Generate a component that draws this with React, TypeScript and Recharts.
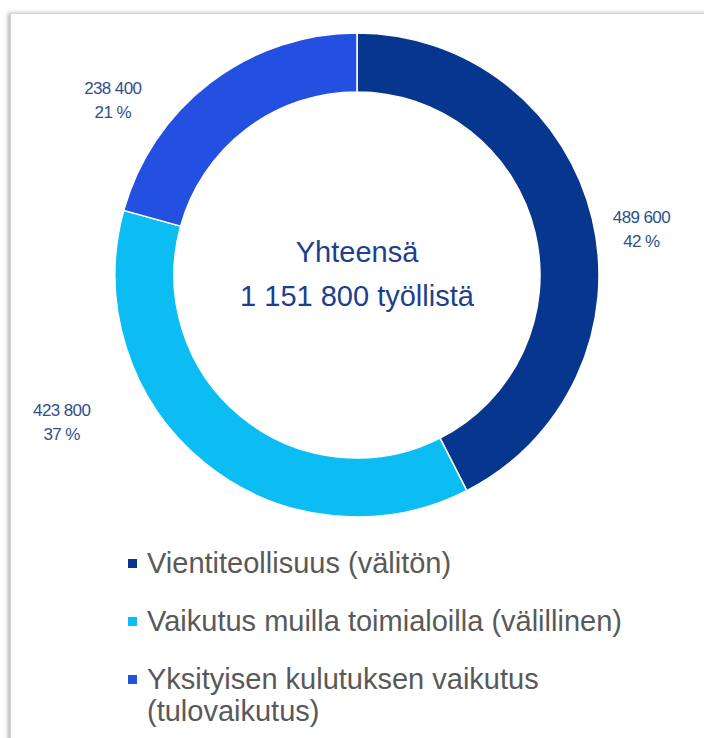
import { PieChart, Pie, Cell, Legend } from 'recharts';

const categories = [
  'Vientiteollisuus (välitön)',
  'Vaikutus muilla toimialoilla (välillinen)',
  'Yksityisen kulutuksen vaikutus (tulovaikutus)',
];
const employed = [489600, 423800, 238400];
const shareLabels = ['42 %', '37 %', '21 %'];
const totalLines = ['Yhteensä', '1 151 800 työllistä'];

const colors = ['#07368f', '#0bbdf2', '#2450e2'];
// where Excel put each data label, as angle (deg) and distance from the centre
const labelSpots = [
  { angle: 9, radius: 288 },
  { angle: 206.5, radius: 330 },
  { angle: 144.5, radius: 300 },
];

const data = categories.map((name, i) => ({ name, value: employed[i] }));

const fmt = (n: number) => n.toLocaleString('en-US').replace(/,/g, ' ');
const FONT = '"Liberation Sans", Arial, sans-serif';

const renderLabel = (props: any) => {
  const { cx, cy, index, value } = props;
  const spot = labelSpots[index];
  const rad = (spot.angle * Math.PI) / 180;
  const x = cx + spot.radius * Math.cos(rad);
  const y = cy - spot.radius * Math.sin(rad);
  return (
    <g>
      <text
        x={x}
        y={y}
        textAnchor="middle"
        fill="#2f4f8e"
        fontSize={17}
        fontFamily={FONT}
        letterSpacing={-0.6}
      >
        <tspan x={x} y={y - 12} dominantBaseline="central">{fmt(value)}</tspan>
        <tspan x={x} y={y + 12} dominantBaseline="central">{shareLabels[index]}</tspan>
      </text>
      {/* the total sits in the hole, drawn once with the first label */}
      {index === 0 && (
        <text textAnchor="middle" fill="#1d3f8f" fontSize={29} fontFamily={FONT}>
          <tspan x={cx} y={cy - 23} dominantBaseline="central">{totalLines[0]}</tspan>
          <tspan x={cx} y={cy + 21} dominantBaseline="central">{totalLines[1]}</tspan>
        </text>
      )}
    </g>
  );
};

const renderLegend = () => (
  <div style={{ fontFamily: FONT, fontSize: 29, color: '#595959' }}>
    {categories.map((name, i) => (
      <div key={name} style={{ display: 'flex', alignItems: 'flex-start', marginBottom: 26 }}>
        <span
          style={{
            width: 9,
            height: 9,
            background: colors[i],
            marginTop: 12,
            marginRight: 10,
            flexShrink: 0,
          }}
        />
        <span style={{ lineHeight: '32px', maxWidth: 500 }}>{name}</span>
      </div>
    ))}
  </div>
);

export default function App() {
  return (
    <div
      style={{
        position: 'fixed',
        left: 0,
        top: 0,
        width: 704,
        height: 738,
        background: '#fff',
        overflow: 'hidden',
      }}
    >
      <div
        style={{
          position: 'absolute',
          left: 10,
          top: 13,
          width: 720,
          height: 760,
          border: '1px solid #d4d4d4',
          boxShadow: '-2px 0 4px rgba(0,0,0,0.3)',
          background: '#fff',
        }}
      />
      <div style={{ position: 'absolute', left: 0, top: 0 }}>
        <PieChart width={704} height={738} margin={{ top: 0, right: 0, bottom: 0, left: 0 }}>
          <Pie
            data={data}
            dataKey="value"
            nameKey="name"
            cx={357}
            cy={275}
            innerRadius={183}
            outerRadius={242}
            startAngle={90}
            endAngle={-270}
            stroke="#fff"
            strokeWidth={1.5}
            label={renderLabel}
            labelLine={false}
            isAnimationActive={false}
          >
            {data.map((d, i) => (
              <Cell key={d.name} fill={colors[i]} />
            ))}
          </Pie>
          <Legend
            content={renderLegend}
            wrapperStyle={{ position: 'absolute', left: 128, top: 547, width: 560 }}
          />
        </PieChart>
      </div>
    </div>
  );
}
